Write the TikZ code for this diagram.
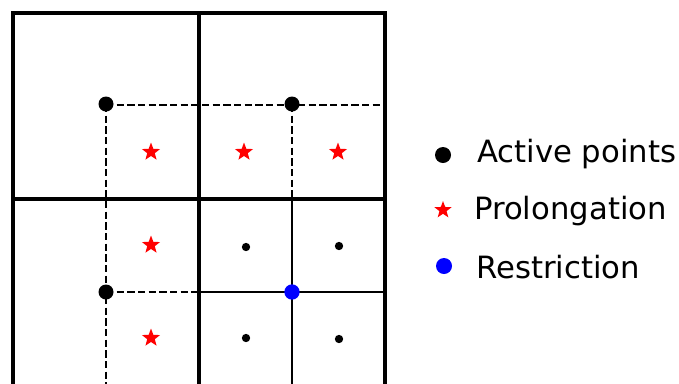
\documentclass[tikz,border=0pt]{standalone}
\usepackage{fontspec}
\setmainfont{DejaVu Sans}
\usetikzlibrary{shapes.geometric}

\tikzset{
    active/.style={circle, fill=black, inner sep=0pt, minimum size=0.45cm},
    restrict/.style={circle, fill=blue, inner sep=0pt, minimum size=0.46cm},
    finept/.style={circle, fill=black, inner sep=0pt, minimum size=0.25cm},
    prolong/.style={star, star points=5, star point ratio=2.4, fill=red, inner sep=0pt, minimum size=0.57cm},
    legtext/.style={anchor=west, inner sep=0pt, font=\fontsize{26.2}{30}\selectfont}
}

\begin{document}
\begin{tikzpicture}[x=0.03cm,y=-0.03cm]
        \useasboundingbox (0,0) rectangle (679,383);

        % Draw coarse grid
        % Draw the outer rectangle border
        \draw[line width=0.095cm] (13,13) rectangle (385,388);
        \draw[line width=0.095cm] (199,13) -- (199,388);
        \draw[line width=0.13cm] (13,199) -- (385,199);

        % Draw fine grid in lower right block
        \draw[line width=0.05cm] (292,199) -- (292,388);
        \draw[line width=0.05cm] (199,292) -- (385,292);

        % Draw dashed lines through active points
        \draw[line width=0.045cm, dash pattern=on 0.22cm off 0.1cm] (106,105) -- (385,105);
        \draw[line width=0.045cm, dash pattern=on 0.22cm off 0.1cm] (106,105) -- (106,388);
        \draw[line width=0.045cm, dash pattern=on 0.22cm off 0.1cm] (292,105) -- (292,199);
        \draw[line width=0.045cm, dash pattern=on 0.22cm off 0.1cm] (106,292) -- (199,292);

        % Active points
        \node[active] (act1) at (106,104) {};
        \node[active] (act2) at (292,104) {};
        \node[active] (act3) at (106,292) {};

        % Restriction point
        \node[restrict] (res1) at (292,292) {};

        % Prolongation points
        \node[prolong] (pro1) at (151,152) {};
        \node[prolong] (pro2) at (244,152) {};
        \node[prolong] (pro3) at (338,152) {};
        \node[prolong] (pro4) at (151,245) {};
        \node[prolong] (pro5) at (151,338) {};

        % Fine points
        \node[finept] (fin1) at (246,247) {};
        \node[finept] (fin2) at (339,246) {};
        \node[finept] (fin3) at (246,338) {};
        \node[finept] (fin4) at (339,339) {};

        % Legend
        \node[active, minimum size=0.48cm] (legact) at (443,155) {};
        \node[legtext] (legacttxt) at (477,154) {Active points};
        \node[prolong, minimum size=0.54cm] (legpro) at (443,210) {};
        \node[legtext] (legprotxt) at (474,211) {Prolongation};
        \node[restrict, minimum size=0.48cm] (legres) at (444,266) {};
        \node[legtext] (legrestxt) at (476,267) {Restriction};

    \end{tikzpicture}
\end{document}
